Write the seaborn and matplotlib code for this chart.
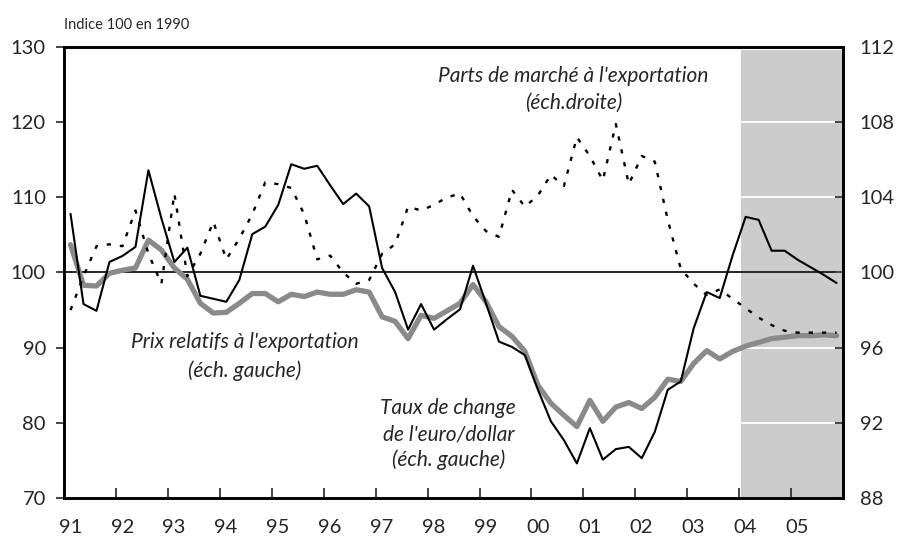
import numpy as np
import pandas as pd
import matplotlib
matplotlib.use("Agg")
import matplotlib.pyplot as plt
import seaborn as sns

# trimestres 1991T1 - 2005T4
annees = list(range(1991, 2006))
etiquettes = ["91", "92", "93", "94", "95", "96", "97", "98", "99",
              "00", "01", "02", "03", "04", "05"]

taux_change = [107.8, 95.8, 94.9, 101.4, 102.2, 103.4, 113.6, 107.2, 101.4, 103.3,
               96.9, 96.5, 96.1, 99.0, 105.1, 106.1, 109.0, 114.4, 113.8, 114.2,
               111.6, 109.1, 110.5, 108.8, 100.6, 97.4, 92.4, 95.8, 92.4, 93.8,
               95.1, 100.9, 95.9, 90.8, 90.1, 89.0, 84.4, 80.2, 77.7, 74.6,
               79.3, 75.1, 76.5, 76.8, 75.3, 78.8, 84.4, 85.5, 92.6, 97.4,
               96.6, 102.3, 107.4, 107.0, 102.9, 102.9, 101.7, 100.7, 99.7, 98.6]

prix_relatifs = [103.7, 98.3, 98.2, 99.9, 100.3, 100.6, 104.3, 103.0, 100.6, 99.1,
                 95.9, 94.6, 94.7, 95.9, 97.2, 97.2, 96.1, 97.1, 96.8, 97.4,
                 97.1, 97.1, 97.7, 97.4, 94.1, 93.5, 91.2, 94.3, 93.9, 94.9,
                 95.9, 98.4, 96.1, 92.8, 91.5, 89.5, 85.0, 82.6, 81.0, 79.5,
                 83.0, 80.2, 82.1, 82.7, 81.9, 83.4, 85.8, 85.5, 87.9, 89.6,
                 88.5, 89.5, 90.2, 90.7, 91.2, 91.4, 91.6, 91.6, 91.7, 91.6]

parts_marche = [98.0, 99.8, 101.4, 101.5, 101.4, 103.3, 101.0, 99.4, 104.2, 99.8,
                101.0, 102.7, 100.7, 101.8, 103.1, 104.8, 104.7, 104.5, 103.1, 100.7,
                100.9, 100.0, 99.4, 99.6, 101.0, 101.5, 103.5, 103.3, 103.6, 104.0,
                104.2, 103.0, 102.2, 101.9, 104.4, 103.5, 104.1, 105.2, 104.6, 107.2,
                106.2, 104.9, 107.9, 104.7, 106.2, 105.9, 102.8, 100.2, 99.4, 98.8,
                99.1, 98.6, 98.1, 97.6, 97.2, 96.9, 96.8, 96.8, 96.8, 96.8]

n = len(taux_change)
df = pd.DataFrame({
    "date": 1991 + (np.arange(n) + 0.5) / 4,
    "taux": taux_change,
    "prix": prix_relatifs,
    "parts": parts_marche,
})

sns.set_style("ticks")
plt.rcParams["font.family"] = ["Lato", "DejaVu Sans"]

fig = plt.figure(figsize=(8.98, 5.39), dpi=100)
ax = fig.add_axes([0.0713, 0.0761, 0.8675, 0.8367])
ax2 = ax.twinx()

# zone de prevision
ax.axvspan(2004.03, 2006, ymax=0.993, color="#cccccc", lw=0, zorder=0.1)
ax.set_axisbelow(True)
ax.grid(axis="y", color="white", lw=1.3)
ax.axhline(100, xmax=0.99, color="black", lw=1.2, zorder=1.5)

sns.lineplot(data=df, x="date", y="prix", ax=ax, color="#8a8a8a", lw=3.8, zorder=2)
sns.lineplot(data=df, x="date", y="taux", ax=ax, color="black", lw=1.5, zorder=3)
sns.lineplot(data=df, x="date", y="parts", ax=ax2, color="black", lw=1.7,
             linestyle=(0, (1.8, 3.8)))

ax.set_xlim(1991, 2006)
ax.set_ylim(70, 130)
ax2.set_ylim(88, 112)
ax.set_yticks(range(70, 131, 10))
ax2.set_yticks(range(88, 113, 4))
ax.set_xticks(annees, labels=[""] * len(annees))
ax.set_xticks([a + 0.12 for a in annees], labels=etiquettes, minor=True)

ax.set_xlabel("")
ax.set_ylabel("")
ax2.set_ylabel("")

ax.tick_params(axis="y", direction="out", length=6, width=1.2, pad=7, labelsize=14.5)
ax.tick_params(axis="x", which="major", direction="in", length=7, width=1.2)
ax.tick_params(axis="x", which="minor", length=0, pad=15, labelsize=14.5)
ax2.tick_params(axis="y", direction="in", length=6, width=1.2, pad=12, labelsize=14.5)

for a in (ax, ax2):
    for s in a.spines.values():
        s.set_visible(True)
        s.set_linewidth(1.9)
        s.set_color("black")

fig.text(0.0713, 0.953, "Indice 100 en 1990", fontsize=10.5, ha="left", va="center")

kw = dict(ha="center", va="center", fontsize=15, style="italic")
ax.text(2000.81, 126.1, "Parts de marché à l'exportation", **kw)
ax.text(2000.81, 122.5, "(éch.droite)", **kw)
ax.text(1994.48, 90.8, "Prix relatifs à l'exportation", **kw)
ax.text(1994.48, 87.0, "(éch. gauche)", **kw)
ax.text(1998.40, 82.0, "Taux de change", **kw)
ax.text(1998.40, 78.4, "de l'euro/dollar", **kw)
ax.text(1998.40, 75.1, "(éch. gauche)", **kw)

fig.savefig("out.png", dpi=100)
